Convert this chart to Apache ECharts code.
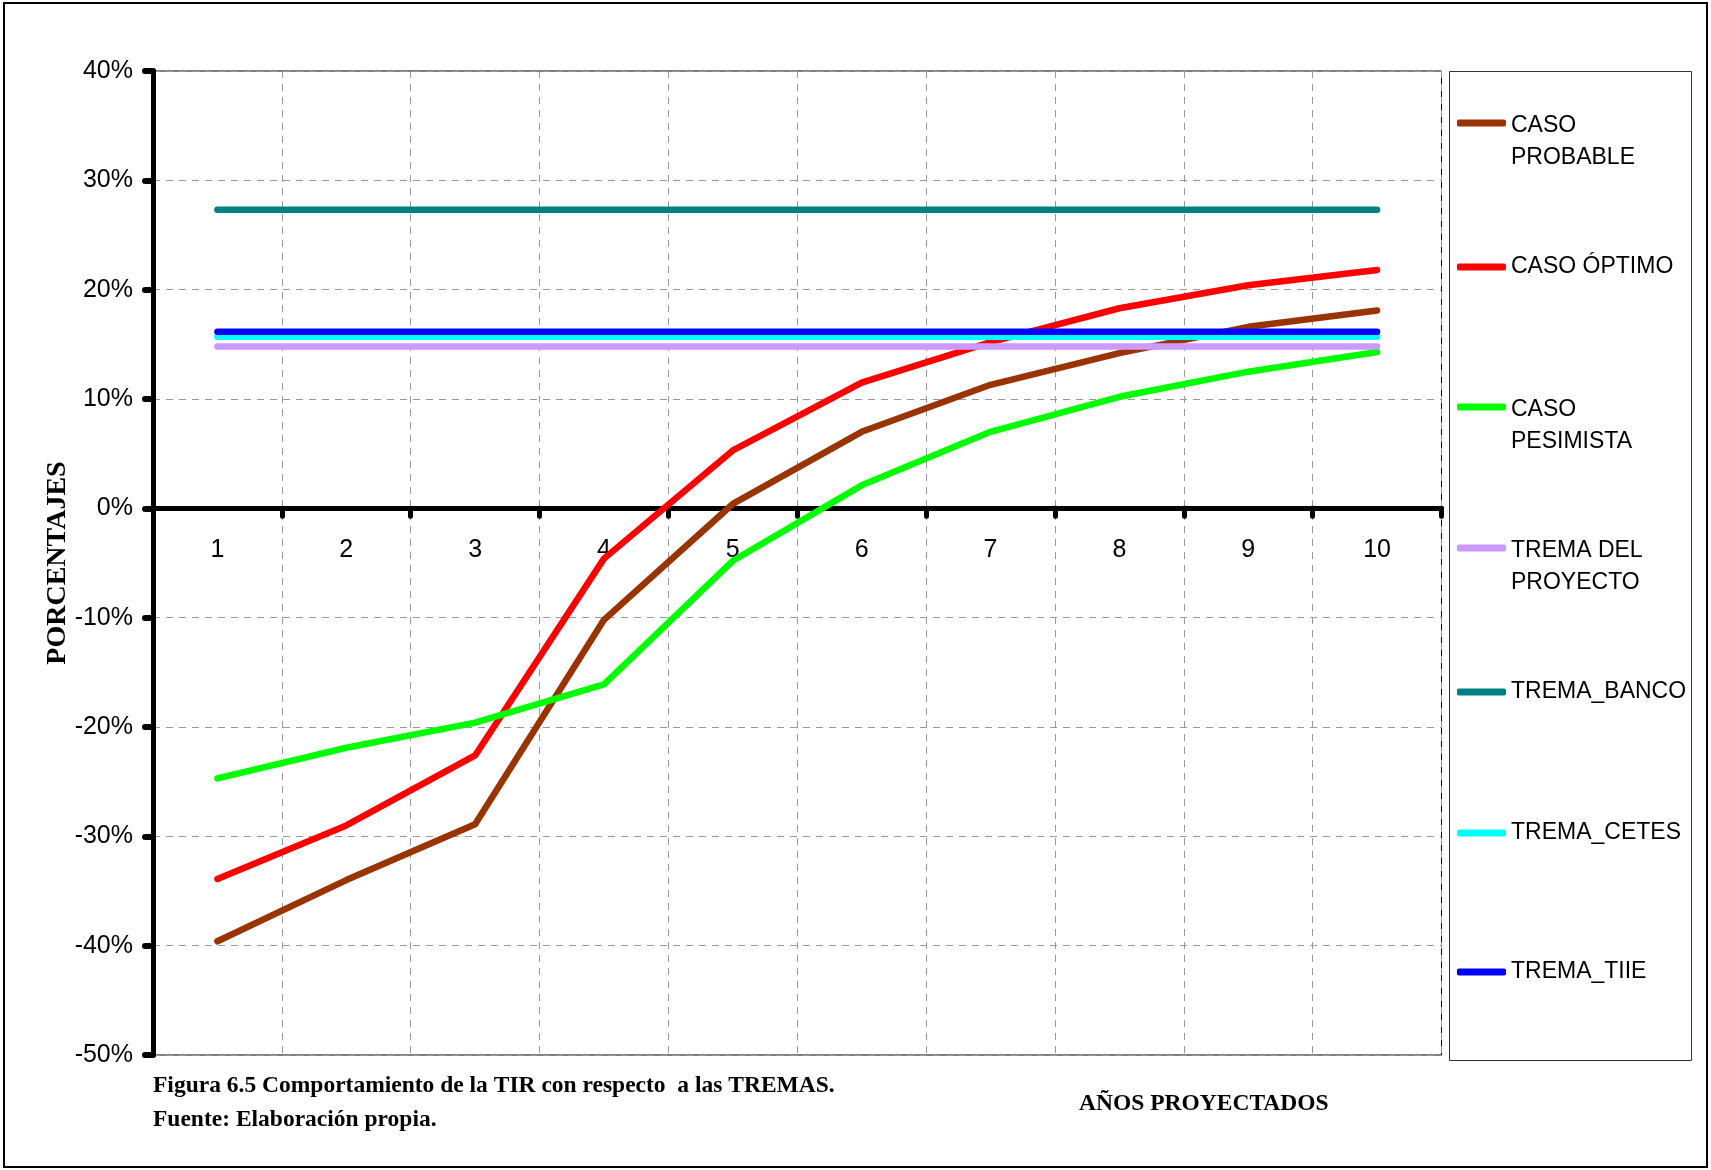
<!DOCTYPE html>
<html>
<head>
<meta charset="utf-8">
<script src="https://cdn.jsdelivr.net/npm/echarts@6/dist/echarts.min.js"></script>
<style>
html,body{margin:0;padding:0;background:#fff;}
#chart{width:1711px;height:1170px;}
</style>
</head>
<body>
<div id="chart"></div>
<script>
// ---- data ----
var categories = ['1','2','3','4','5','6','7','8','9','10'];
var casoProbable  = [-39.6, -34.0, -28.9, -10.2, 0.4, 7.0, 11.3, 14.2, 16.6, 18.1];
var casoOptimo    = [-33.9, -29.0, -22.6, -4.6, 5.3, 11.5, 15.2, 18.3, 20.4, 21.8];
var casoPesimista = [-24.7, -21.9, -19.6, -16.1, -4.8, 2.1, 7.0, 10.2, 12.5, 14.3];
var tremaProyecto = [14.8, 14.8, 14.8, 14.8, 14.8, 14.8, 14.8, 14.8, 14.8, 14.8];
var tremaBanco    = [27.3, 27.3, 27.3, 27.3, 27.3, 27.3, 27.3, 27.3, 27.3, 27.3];
var tremaCetes    = [15.7, 15.7, 15.7, 15.7, 15.7, 15.7, 15.7, 15.7, 15.7, 15.7];
var tremaTiie     = [16.15, 16.15, 16.15, 16.15, 16.15, 16.15, 16.15, 16.15, 16.15, 16.15];
var seriesNames = ['CASO PROBABLE','CASO ÓPTIMO','CASO PESIMISTA','TREMA DEL PROYECTO','TREMA_BANCO','TREMA_CETES','TREMA_TIIE'];
var seriesColors = ['#993300','#FF0000','#00FF00','#CC99FF','#008080','#00FFFF','#0000FF'];
var seriesData = [casoProbable, casoOptimo, casoPesimista, tremaProyecto, tremaBanco, tremaCetes, tremaTiie];
var yMin = -50, yMax = 40, yInterval = 10;

// ---- layout ----
var legendTops = [75, 251, 359, 500, 676, 817, 956];
var legendTwoLine = [true, false, true, true, false, false, false];
var gridLeft = 153, gridRightEdge = 1441.5, gridTop = 71, gridBottomEdge = 1055;
var gridHeight = gridBottomEdge - gridTop;
// move the category axis up to the zero line of the value axis
var xAxisOffset = -((0 - yMin) / (yMax - yMin)) * gridHeight;

var chart = echarts.init(document.getElementById('chart'), null, {renderer:'canvas'});

var series = seriesNames.map(function(n, i){
  return {
    name: n, type: 'line', data: seriesData[i], showSymbol: false, symbol: 'none',
    smooth: false, animation: false,
    lineStyle: {color: seriesColors[i], width: 6.5, cap: 'round', join: 'round'},
    itemStyle: {color: seriesColors[i]},
    emphasis: {disabled: true}
  };
});

var legends = seriesNames.map(function(n, i){
  return {
    show: true, orient: 'vertical', left: 1457, top: legendTops[i] - (legendTwoLine[i] ? 3 : 0), padding: 0,
    data: [n], selectedMode: false,
    icon: 'roundRect', itemWidth: 49, itemHeight: 7,
    formatter: function(name){ return legendTwoLine[i] ? '{gap| }\n' + name : name; },
    textStyle: {
      fontFamily: '"Liberation Sans", Arial, sans-serif', fontSize: 23, color: '#000',
      lineHeight: 32, width: 180, overflow: 'break',
      rich: {gap: {lineHeight: 38, fontSize: 23}}
    }
  };
});

var labelFont = '"Liberation Sans", Arial, sans-serif';
var captionFont = 'bold 23.5px "Liberation Serif", "Times New Roman", serif';

var option = {
  animation: false,
  backgroundColor: '#fff',
  grid: {left: gridLeft, right: 1711 - gridRightEdge, top: gridTop, bottom: 1170 - gridBottomEdge, containLabel: false,
         show: true, borderColor: '#000', borderWidth: 1, backgroundColor: 'transparent'},
  legend: legends,
  xAxis: {
    type: 'category', data: categories, boundaryGap: true, position: 'bottom', offset: xAxisOffset,
    axisLine: {show: true, onZero: false, lineStyle: {color: '#000', width: 5, cap: 'round'}},
    axisTick: {show: true, length: 8, inside: false, lineStyle: {color: '#000', width: 5, cap: 'round'}},
    axisLabel: {show: true, margin: 29, color: '#000', fontSize: 25, fontFamily: labelFont},
    splitLine: {show: true, lineStyle: {color: '#999', width: 1, type: [7, 6]}}
  },
  yAxis: {
    type: 'value', min: yMin, max: yMax, interval: yInterval,
    name: 'PORCENTAJES', nameLocation: 'middle', nameRotate: 90, nameGap: 81, nameMoveOverlap: false,
    nameTextStyle: {fontFamily: '"Liberation Serif", "Times New Roman", serif', fontWeight: 'bold', fontSize: 28, color: '#000'},
    axisLine: {show: true, lineStyle: {color: '#000', width: 5, cap: 'round'}},
    axisTick: {show: true, length: 8, lineStyle: {color: '#000', width: 6, cap: 'round'}},
    axisLabel: {show: true, margin: 20, color: '#000', fontSize: 25, formatter: '{value}%', fontFamily: labelFont},
    splitLine: {show: true, lineStyle: {color: '#999', width: 1, type: [7, 6]}}
  },
  series: series,
  graphic: [
    {type: 'rect', shape: {x: 4, y: 3, width: 1703, height: 1164}, style: {fill: 'none', stroke: '#000', lineWidth: 2}, silent: true},
    {type: 'rect', shape: {x: 1449.5, y: 71.5, width: 242, height: 989}, style: {fill: 'none', stroke: '#333', lineWidth: 1}, silent: true},
    {type: 'text', left: 153, top: 1074, style: {text: 'Figura 6.5 Comportamiento de la TIR con respecto  a las TREMAS.', font: captionFont, fill: '#000'}, silent: true},
    {type: 'text', left: 153, top: 1108, style: {text: 'Fuente: Elaboración propia.', font: captionFont, fill: '#000'}, silent: true},
    {type: 'text', left: 1079, top: 1092, style: {text: 'AÑOS PROYECTADOS', font: captionFont, fill: '#000'}, silent: true}
  ]
};
chart.setOption(option);
</script>
</body>
</html>
